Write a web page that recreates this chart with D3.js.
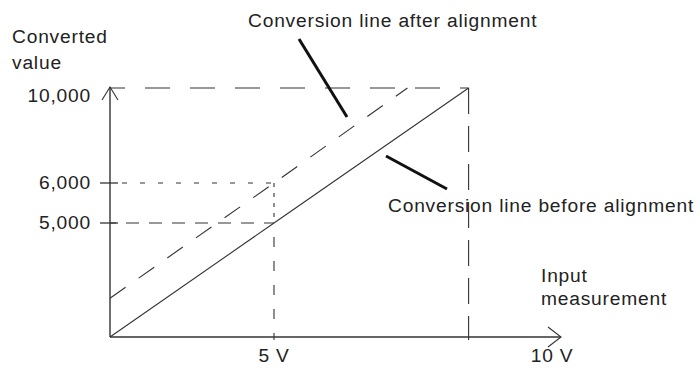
<!DOCTYPE html>
<html lang="en">
<head>
<meta charset="utf-8">
<title>Conversion line alignment</title>
<script src="https://d3js.org/d3.v7.min.js"></script>
<style>
  body { margin: 0; background: #fff; }
  text { font-family: "Liberation Sans", Arial, sans-serif; font-size: 19.2px; fill: #222; letter-spacing: 0.8px; }
</style>
</head>
<body>
<script>
// chart values
var yTicks = [10000, 6000, 5000];
var yTickLabels = ["10,000", "6,000", "5,000"];
var xTicks = [5, 10];
var xTickLabels = ["5 V", "10 V"];

// conversion line before alignment (volts, converted value)
var beforeV = [0, 5, 8.5];
var beforeVal = [0, 5000, 10000];
// conversion line after alignment
var afterV = [0, 5, 7.4];
var afterVal = [1700, 6000, 10000];

var W = 700, H = 368;
var svg = d3.select("body").append("svg")
  .attr("width", W)
  .attr("height", H);

// schematic scales (not to proportion, like the drawing)
var x = d3.scaleLinear().domain([0, 5, 10]).range([110, 274, 552]);
var y = d3.scaleLinear().domain([0, 5000, 6000, 10000]).range([337, 223, 183, 88]);

var ink = "#333";
var xEnd = beforeV[2];   // full scale point of the solid line
var yTop = beforeVal[2];

//guide lines
function guide(x1, y1, x2, y2, dash, off) {
  svg.append("line")
    .attr("x1", x1).attr("y1", y1).attr("x2", x2).attr("y2", y2)
    .attr("stroke", ink).attr("stroke-width", 1.1)
    .attr("stroke-dasharray", dash)
    .attr("stroke-dashoffset", off || 0);
}
// 10,000 level and the full scale vertical
guide(x(0), y(yTop), x(xEnd), y(yTop), "25,20", 10);
guide(x(xEnd), y(yTop), x(xEnd), y(0) + 3, "26,12", 0);
// 6,000 dotted
guide(x(0), y(6000), x(5), y(6000), "5,13", -12);
guide(x(5), y(6000), x(5), y(5000), "4,6", 0);
// 5,000 dashed
guide(x(0), y(5000), x(5), y(5000), "13,10", -16);
guide(x(5), y(5000), x(5), y(0) + 3, "10,14", -14);

// ticks on the y axis
svg.selectAll(".ytick")
  .data(yTicks.slice(1))
  .enter().append("line")
  .attr("x1", x(0) - 10).attr("x2", x(0) + 8)
  .attr("y1", function(d){ return y(d); })
  .attr("y2", function(d){ return y(d); })
  .attr("stroke", ink).attr("stroke-width", 1.3);

// conversion lines
var line = d3.line()
  .x(function(d){ return x(d[0]); })
  .y(function(d){ return y(d[1]); });

svg.append("path")
  .attr("d", line(d3.zip(beforeV, beforeVal)))
  .attr("fill", "none").attr("stroke", ink).attr("stroke-width", 1.1);

svg.append("path")
  .attr("d", line(d3.zip(afterV, afterVal)))
  .attr("fill", "none").attr("stroke", ink).attr("stroke-width", 1.1)
  .attr("stroke-dasharray", "19,16");

// axes with open arrows
svg.append("line")
  .attr("x1", x(0)).attr("y1", y(0)).attr("x2", x(0)).attr("y2", y(yTop) - 1)
  .attr("stroke", ink).attr("stroke-width", 1.4);
svg.append("path")
  .attr("d", "M" + (x(0) - 8) + "," + (y(yTop) + 12) + "L" + x(0) + "," + (y(yTop) - 1) + "L" + (x(0) + 8) + "," + (y(yTop) + 12))
  .attr("fill", "none").attr("stroke", ink).attr("stroke-width", 1.1);

var xArrow = x(10) + 9;
svg.append("line")
  .attr("x1", x(0)).attr("y1", y(0)).attr("x2", xArrow).attr("y2", y(0))
  .attr("stroke", ink).attr("stroke-width", 1.4);
svg.append("path")
  .attr("d", "M" + (xArrow - 13) + "," + (y(0) - 10) + "L" + xArrow + "," + y(0) + "L" + (xArrow - 13) + "," + (y(0) + 10))
  .attr("fill", "none").attr("stroke", ink).attr("stroke-width", 1.1);

// tick labels
svg.selectAll(".ylab")
  .data(yTicks)
  .enter().append("text")
  .attr("x", 91)
  .attr("y", function(d){ return y(d) + (d === yTop ? 14 : 6); })
  .attr("text-anchor", "end")
  .text(function(d, i){ return yTickLabels[i]; });

svg.selectAll(".xlab")
  .data(xTicks)
  .enter().append("text")
  .attr("x", function(d){ return x(d); })
  .attr("y", y(0) + 25)
  .attr("text-anchor", "middle")
  .text(function(d, i){ return xTickLabels[i]; });

// axis titles
svg.append("text").attr("x", 12).attr("y", 43).text("Converted");
svg.append("text").attr("x", 12).attr("y", 69).text("value");
svg.append("text").attr("x", 541).attr("y", 282).text("Input");
svg.append("text").attr("x", 541).attr("y", 305).text("measurement");

// annotations with leader lines
svg.append("text").attr("x", 248).attr("y", 27).text("Conversion line after alignment");
svg.append("line")
  .attr("x1", 299).attr("y1", 39).attr("x2", 347).attr("y2", 117)
  .attr("stroke", "#111").attr("stroke-width", 3);

svg.append("text").attr("x", 388).attr("y", 212).text("Conversion line before alignment");
svg.append("line")
  .attr("x1", 386).attr("y1", 156).attr("x2", 447).attr("y2", 189)
  .attr("stroke", "#111").attr("stroke-width", 3);
</script>
</body>
</html>
